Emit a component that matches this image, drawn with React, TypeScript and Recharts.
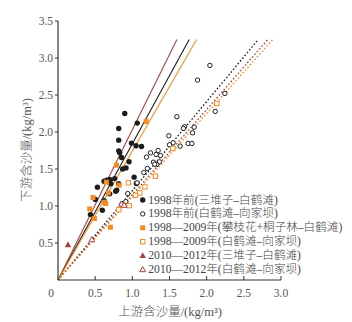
import React from "react";
import { ScatterChart, Scatter, XAxis, YAxis, ReferenceLine, Label } from "recharts";

const FONT = "'Liberation Serif', 'Times New Roman', 'Noto Sans CJK SC', serif";
const AXIS = "#333";
const TEXT = "#555";
const BLACK = "#1c1c1c";
const RED = "#a8433f";
const ORANGE = "#f28d22";

const xTicks = [0, 0.5, 1.0, 1.5, 2.0, 2.5, 3.0];
const yTicks = [0.5, 1.0, 1.5, 2.0, 2.5, 3.0, 3.5];

// 1998年前(三堆子–白鹤滩)
const pre1998Upper = [
  [0.898, 2.25], [0.817, 2.048], [0.817, 1.89], [1.066, 2.12], [0.988, 1.85],
  [1.05, 1.815], [1.123, 1.805], [0.83, 1.72], [0.817, 1.745], [0.855, 1.655],
  [0.956, 1.597], [0.915, 1.515], [0.87, 1.5], [1.024, 1.39], [1.055, 1.305],
  [0.53, 1.254], [0.62, 1.335], [0.655, 1.35], [0.696, 1.358], [0.763, 1.37],
  [0.71, 1.3], [0.817, 1.3], [0.777, 1.2], [0.79, 1.215], [0.696, 1.164],
  [0.62, 1.07], [0.503, 1.087], [0.597, 0.943], [0.436, 0.884],
];
// 1998年前(白鹤滩–向家坝)
const pre1998Lower = [
  [2.043, 2.9], [1.877, 2.702], [1.599, 2.206], [2.115, 2.278], [2.245, 2.521],
  [1.832, 2.066], [1.81, 1.989], [1.702, 2.07], [1.688, 2.048], [1.491, 1.949],
  [1.549, 1.854], [1.5, 1.827], [1.643, 1.809], [1.751, 1.845], [1.801, 1.845],
  [1.347, 1.75], [1.244, 1.718], [1.32, 1.696], [1.379, 1.682], [1.19, 1.66],
  [1.365, 1.597], [1.284, 1.592], [1.329, 1.561], [1.302, 1.565], [1.203, 1.507],
  [1.154, 1.452], [1.064, 1.313], [0.938, 1.168], [0.912, 1.06], [0.862, 1.033],
];
// 1998—2009年(攀枝花+桐子林–白鹤滩)
const mid2009Upper = [
  [1.185, 2.143], [0.786, 1.552], [0.822, 1.281], [0.651, 1.322], [0.678, 1.177],
  [0.471, 1.114], [0.62, 1.051], [0.642, 1.033], [0.427, 0.961], [0.489, 0.83],
  [0.705, 0.713],
];
// 1998—2009年(白鹤滩–向家坝)
const mid2009Lower = [
  [2.137, 2.386], [1.545, 1.777], [1.311, 1.403], [0.947, 1.313], [1.168, 1.258],
  [1.1, 1.177], [1.043, 1.145], [0.957, 1.005], [0.818, 0.95],
];
// 2010—2012年(三堆子–白鹤滩)
const late2012Upper = [[0.135, 0.478]];
// 2010—2012年(白鹤滩–向家坝)
const late2012Lower = [[0.455, 0.546], [0.854, 1.028], [0.889, 1.012]];

// fitted lines through the origin: [x end, y end]
const fitEnds = [
  [1.6, 3.25], [1.765, 3.25], [1.865, 3.25],
  [2.695, 3.25], [2.822, 3.25], [2.89, 3.25],
];
const fitColors = [RED, BLACK, ORANGE, BLACK, RED, ORANGE];
const fitDashed = [false, false, false, true, true, true];

const legendLabels = [
  "1998年前(三堆子–白鹤滩)",
  "1998年前(白鹤滩–向家坝)",
  "1998—2009年(攀枝花+桐子林–白鹤滩)",
  "1998—2009年(白鹤滩–向家坝)",
  "2010—2012年(三堆子–白鹤滩)",
  "2010—2012年(白鹤滩–向家坝)",
];

const toPts = (arr: number[][]) => arr.map(([x, y]) => ({ x, y }));

type Kind = "dot" | "ring" | "sq" | "sqo" | "tri" | "trio";
const kinds: Kind[] = ["dot", "ring", "sq", "sqo", "tri", "trio"];
const kindColors = [BLACK, BLACK, ORANGE, ORANGE, RED, RED];

function Marker({ kind, cx, cy, color }: { kind: Kind; cx: number; cy: number; color: string }) {
  switch (kind) {
    case "dot":
      return <circle cx={cx} cy={cy} r={2.7} fill={color} />;
    case "ring":
      return <circle cx={cx} cy={cy} r={2.2} fill="#fff" stroke={color} strokeWidth={1} />;
    case "sq":
      return <rect x={cx - 2.5} y={cy - 2.5} width={5} height={5} fill={color} />;
    case "sqo":
      return <rect x={cx - 2.2} y={cy - 2.2} width={4.4} height={4.4} fill="#fff" stroke={color} strokeWidth={1} />;
    case "tri":
      return <polygon points={`${cx},${cy - 3.3} ${cx + 3.2},${cy + 2.5} ${cx - 3.2},${cy + 2.5}`} fill={color} />;
    default:
      return (
        <polygon
          points={`${cx},${cy - 3} ${cx + 2.9},${cy + 2.2} ${cx - 2.9},${cy + 2.2}`}
          fill="#fff"
          stroke={color}
          strokeWidth={1}
        />
      );
  }
}

const series = [pre1998Upper, pre1998Lower, mid2009Upper, mid2009Lower, late2012Upper, late2012Lower];

function XTick(props: any) {
  const { x, y, payload } = props;
  const ay = y - 8;
  const v = payload.value as number;
  return (
    <g>
      {v !== 0 && <line x1={x} x2={x} y1={ay} y2={ay - 4} stroke={AXIS} strokeWidth={1} />}
      <text x={v === 0 ? x - 7 : x} y={ay + 17} textAnchor="middle" fontSize={11.5} fill={TEXT} fontFamily={FONT}>
        {v === 0 ? "0" : v.toFixed(1)}
      </text>
    </g>
  );
}

export default function App() {
  return (
    <div style={{ position: "relative", width: 352, height: 322, background: "#fff" }}>
      <style>{`body{margin:0}`}</style>
      <ScatterChart width={352} height={322} margin={{ top: 21, right: 71, bottom: 0, left: 0 }}>
        <XAxis
          type="number"
          dataKey="x"
          domain={[0, 3]}
          ticks={xTicks}
          tick={<XTick />}
          tickLine={false}
          tickSize={0}
          tickMargin={8}
          height={42}
          stroke={AXIS}
          axisLine={{ stroke: AXIS, strokeWidth: 1.2 }}
        >
          <Label
            content={() => (
              <text x={170} y={316} textAnchor="middle" fontSize={12.5} fontWeight={300} fill={TEXT} fontFamily={FONT}>
                上游含沙量/(kg/m³)
              </text>
            )}
          />
        </XAxis>
        <YAxis
          type="number"
          dataKey="y"
          domain={[0, 3.5]}
          ticks={yTicks}
          width={58}
          tickSize={3}
          tickMargin={2}
          tick={{ fontSize: 11.5, fill: TEXT, fontFamily: FONT }}
          tickFormatter={(v: number) => v.toFixed(1)}
          stroke={AXIS}
          axisLine={{ stroke: AXIS, strokeWidth: 1.2 }}
        >
          <Label
            content={() => (
              <text
                x={27}
                y={150}
                transform="rotate(-90 27 150)"
                textAnchor="middle"
                dominantBaseline="central"
                fontSize={12.5}
                fontWeight={300}
                fill={TEXT}
                fontFamily={FONT}
              >
                下游含沙量/(kg/m³)
              </text>
            )}
          />
        </YAxis>
        {fitEnds.map(([xe, ye], i) => (
          <ReferenceLine
            key={`fit${i}`}
            segment={[{ x: 0, y: 0 }, { x: xe, y: ye }]}
            stroke={fitColors[i]}
            strokeWidth={fitDashed[i] ? 1.3 : 1.1}
            strokeDasharray={fitDashed[i] ? "1.6 2" : undefined}
            ifOverflow="visible"
          />
        ))}
        {series.map((s, i) => (
          <Scatter
            key={`s${i}`}
            data={toPts(s)}
            isAnimationActive={false}
            shape={(p: any) => <Marker kind={kinds[i]} cx={p.cx} cy={p.cy} color={kindColors[i]} />}
          />
        ))}
      </ScatterChart>
      <svg
        width={214}
        height={90}
        style={{ position: "absolute", left: 136, top: 192 }}
      >
        {legendLabels.map((lab, i) => {
          const cy = 8 + i * 13.9;
          return (
            <g key={lab}>
              <Marker kind={kinds[i]} cx={6.7} cy={cy} color={kindColors[i]} />
              <text
                x={12.3}
                y={cy}
                dominantBaseline="central"
                fontSize={11.6}
                fontWeight={300}
                fill="#444"
                fontFamily={FONT}
              >
                {lab}
              </text>
            </g>
          );
        })}
      </svg>
    </div>
  );
}
